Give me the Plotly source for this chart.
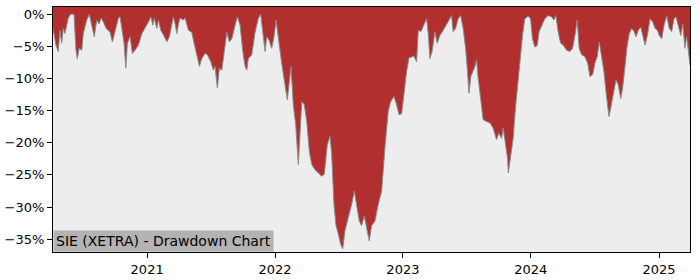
import pandas as pd
import plotly.graph_objects as go

# decimal-year positions of the drawdown samples
years = [
    2020.266, 2020.289, 2020.307, 2020.320, 2020.334, 2020.346, 2020.359, 2020.385, 2020.404, 2020.430,
    2020.445, 2020.455, 2020.471, 2020.490, 2020.502, 2020.529, 2020.549, 2020.568, 2020.588, 2020.607,
    2020.625, 2020.641, 2020.664, 2020.680, 2020.698, 2020.711, 2020.729, 2020.750, 2020.776, 2020.789,
    2020.807, 2020.820, 2020.834, 2020.846, 2020.867, 2020.885, 2020.906, 2020.932, 2020.959, 2020.984,
    2021.010, 2021.029, 2021.045, 2021.055, 2021.076, 2021.088, 2021.107, 2021.127, 2021.154, 2021.174,
    2021.193, 2021.205, 2021.219, 2021.232, 2021.245, 2021.258, 2021.284, 2021.297, 2021.323, 2021.349,
    2021.367, 2021.388, 2021.409, 2021.427, 2021.453, 2021.471, 2021.498, 2021.518, 2021.531, 2021.549,
    2021.565, 2021.584, 2021.609, 2021.623, 2021.643, 2021.662, 2021.688, 2021.705, 2021.727, 2021.748,
    2021.766, 2021.779, 2021.791, 2021.818, 2021.844, 2021.870, 2021.888, 2021.904, 2021.922, 2021.935,
    2021.953, 2021.974, 2021.992, 2022.008, 2022.026, 2022.052, 2022.078, 2022.096, 2022.112, 2022.125,
    2022.143, 2022.162, 2022.182, 2022.209, 2022.229, 2022.248, 2022.268, 2022.287, 2022.313, 2022.338,
    2022.365, 2022.385, 2022.409, 2022.430, 2022.443, 2022.461, 2022.477, 2022.495, 2022.513, 2022.529,
    2022.547, 2022.573, 2022.599, 2022.620, 2022.638, 2022.659, 2022.677, 2022.698, 2022.716, 2022.737,
    2022.755, 2022.781, 2022.807, 2022.834, 2022.859, 2022.885, 2022.904, 2022.930, 2022.951, 2022.969,
    2022.990, 2023.010, 2023.029, 2023.047, 2023.068, 2023.086, 2023.107, 2023.120, 2023.141, 2023.166,
    2023.185, 2023.198, 2023.211, 2023.229, 2023.250, 2023.268, 2023.289, 2023.315, 2023.341, 2023.362,
    2023.380, 2023.393, 2023.412, 2023.432, 2023.451, 2023.471, 2023.490, 2023.505, 2023.516, 2023.531,
    2023.549, 2023.563, 2023.576, 2023.588, 2023.609, 2023.627, 2023.654, 2023.680, 2023.705, 2023.732,
    2023.750, 2023.771, 2023.784, 2023.802, 2023.818, 2023.824, 2023.836, 2023.848, 2023.862, 2023.880,
    2023.901, 2023.914, 2023.922, 2023.935, 2023.953, 2023.979, 2023.998, 2024.013, 2024.031, 2024.049,
    2024.065, 2024.084, 2024.109, 2024.135, 2024.162, 2024.180, 2024.195, 2024.213, 2024.232, 2024.252,
    2024.279, 2024.305, 2024.326, 2024.344, 2024.362, 2024.377, 2024.396, 2024.422, 2024.443, 2024.461,
    2024.482, 2024.500, 2024.518, 2024.534, 2024.552, 2024.570, 2024.586, 2024.596, 2024.609, 2024.623,
    2024.643, 2024.664, 2024.682, 2024.701, 2024.716, 2024.734, 2024.752, 2024.768, 2024.787, 2024.805,
    2024.820, 2024.838, 2024.857, 2024.873, 2024.891, 2024.909, 2024.930, 2024.951, 2024.969, 2024.987,
    2025.002, 2025.021, 2025.039, 2025.060, 2025.080, 2025.099, 2025.117, 2025.133, 2025.151, 2025.170,
    2025.185, 2025.203, 2025.216, 2025.229, 2025.242,
]

# drawdown in percent
drawdown = [
    -2.2, -4.8, -5.8, -2.5, -4.5, -2.2, -3.0, -0.6, 0.0, 0.0,
    -5.6, -6.9, -5.3, -5.6, -3.0, -0.9, 0.0, -1.5, -3.5, -0.9,
    -1.5, -0.6, -1.4, -2.2, -2.5, -2.8, -4.3, -2.5, -0.6, -0.4,
    -2.8, -4.5, -8.4, -4.5, -3.5, -6.1, -5.6, -4.8, -3.0, -2.2,
    -1.2, -0.4, -1.7, -0.6, -2.2, -0.9, -2.5, -3.2, -4.3, -3.5,
    -1.2, -0.4, -1.5, -3.0, -1.5, -0.6, -0.9, -0.6, -2.5, -2.8,
    -4.5, -6.3, -8.1, -6.9, -6.1, -6.3, -7.4, -8.7, -8.1, -11.5,
    -8.4, -8.7, -5.1, -2.8, -4.3, -3.8, -1.7, -0.4, -1.7, -5.8,
    -8.1, -8.7, -6.9, -6.3, -2.8, -0.6, 0.0, -3.0, -5.8, -3.5,
    -4.0, -5.3, -3.5, -0.9, -3.8, -7.6, -11.0, -13.3, -10.5, -8.2,
    -14.1, -17.2, -23.4, -13.6, -14.1, -16.7, -21.3, -23.4, -24.2, -24.7,
    -25.2, -24.9, -20.3, -19.0, -21.8, -29.6, -32.9, -34.2, -35.8, -36.5,
    -33.7, -31.6, -29.6, -27.5, -29.6, -32.2, -32.9, -31.4, -33.2, -35.3,
    -32.9, -32.2, -29.6, -27.5, -20.8, -15.1, -13.6, -12.8, -14.1, -15.6,
    -15.5, -12.0, -8.9, -6.8, -6.6, -6.5, -7.4, -2.5, -2.7, -1.7,
    -0.7, -3.0, -6.9, -5.7, -2.7, -4.5, -3.3, -2.5, -1.5, -0.7,
    -0.2, -2.7, -2.2, -0.7, -0.2, -2.2, -5.3, -8.9, -12.3, -9.7,
    -8.9, -8.1, -7.1, -9.9, -13.3, -16.4, -16.7, -16.9, -17.7, -19.5,
    -18.5, -19.3, -17.7, -20.3, -22.4, -24.7, -23.0, -21.5, -19.3, -14.6,
    -10.0, -8.0, -6.3, -3.3, -0.7, -0.3, -0.7, -3.8, -5.1, -4.9,
    -2.7, -1.7, -0.7, -0.2, -0.4, -0.9, -0.2, -2.7, -4.5, -4.8,
    -5.6, -5.8, -5.3, -3.3, -0.9, -5.3, -6.3, -6.6, -7.6, -9.7,
    -9.4, -7.6, -6.6, -4.3, -6.6, -8.9, -12.0, -14.1, -15.9, -14.6,
    -12.5, -10.2, -11.0, -13.1, -11.5, -7.9, -4.8, -3.0, -2.2, -2.7,
    -3.5, -2.5, -2.0, -3.3, -4.8, -3.3, -0.7, -1.2, -2.2, -2.5,
    -3.3, -3.8, -1.7, -0.2, -2.2, -2.7, -0.7, -0.4, -2.0, -3.3,
    -1.5, -5.3, -3.5, -5.8, -7.9,
]

y_ticks = [0, -5, -10, -15, -20, -25, -30, -35]
y_tick_labels = ["0%", "\u22125%", "\u221210%", "\u221215%", "\u221220%", "\u221225%", "\u221230%", "\u221235%"]
x_ticks = ["2021-01-01", "2022-01-01", "2023-01-01", "2024-01-01", "2025-01-01"]
x_tick_labels = ["2021", "2022", "2023", "2024", "2025"]
title_text = "SIE (XETRA) - Drawdown Chart"


def to_date(y):
    yr = int(y // 1)
    start = pd.Timestamp(year=yr, month=1, day=1)
    end = pd.Timestamp(year=yr + 1, month=1, day=1)
    return start + (end - start) * (y - yr)


dates = [to_date(v) for v in years]
y_min, y_max = -37.0, 1.13

RED = "#B12F2F"
BG = "#EDEDED"

fig = go.Figure()
fig.add_trace(go.Scatter(x=dates, y=[y_min - 5] * len(dates), mode="lines",
                         line=dict(width=0, color=BG), hoverinfo="skip", showlegend=False))
fig.add_trace(go.Scatter(x=dates, y=drawdown, mode="lines", fill="tonexty",
                         fillcolor=BG, line=dict(color="#8A8A8A", width=1),
                         showlegend=False))

fig.update_layout(
    width=700, height=280,
    margin=dict(l=53, r=10, t=7, b=28),
    paper_bgcolor="white", plot_bgcolor=RED,
    font=dict(family="DejaVu Sans", size=13, color="black"),
    showlegend=False,
)
fig.update_xaxes(
    range=[dates[0], dates[-1]], tickvals=x_ticks, ticktext=x_tick_labels,
    showgrid=False, zeroline=False, showline=True, linecolor="black", linewidth=1,
    mirror=True, ticks="outside", ticklen=5, tickcolor="black", automargin=False,
)
fig.update_yaxes(
    range=[y_min, y_max], tickvals=y_ticks, ticktext=y_tick_labels,
    showgrid=False, zeroline=False, showline=True, linecolor="black", linewidth=1,
    mirror=True, ticks="outside", ticklen=5, tickcolor="black", automargin=False,
)
fig.add_annotation(
    text=title_text, xref="paper", yref="paper", x=0, y=0,
    xanchor="left", yanchor="bottom", showarrow=False,
    bgcolor="#B3B3B3", borderpad=2, font=dict(family="DejaVu Sans", size=14, color="black"),
)

fig.write_html("out.html")
